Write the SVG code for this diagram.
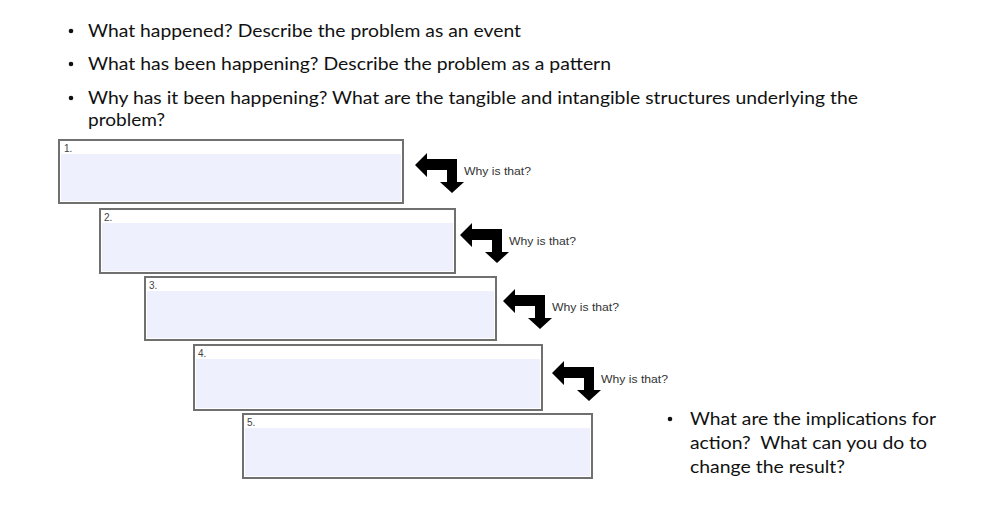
<svg xmlns="http://www.w3.org/2000/svg" width="1000" height="511" viewBox="0 0 1000 511">
<defs>
<style>
.bt{font-family:Lato,"Open Sans","Liberation Sans",sans-serif;font-size:18px;fill:#111}
.bul{fill:#111}
.box{fill:#fff;stroke:#707070;stroke-width:2}
.inner{fill:#eef1fd}
.num{font-family:"Liberation Sans",Arial,sans-serif;font-size:10px;fill:#444}
.why{font-family:"Liberation Sans",Arial,sans-serif;font-size:11.5px;fill:#333}
.arr{fill:#000}
</style>
<path id="arrowShape" d="M0,0 L12,-12 L12,-6 L42,-6 L42,17 L49,17 L37,28 L25,17 L32,17 L32,5 L12,5 L12,12 Z"/>
</defs>
<rect width="1000" height="511" fill="#fff"/>
<g id="top-bullets">
<circle class="bul" cx="71" cy="31" r="2.3"/>
<text class="bt" x="88" y="37" textLength="433" lengthAdjust="spacingAndGlyphs">What happened? Describe the problem as an event</text>
<circle class="bul" cx="71" cy="64" r="2.3"/>
<text class="bt" x="88" y="70" textLength="523" lengthAdjust="spacingAndGlyphs">What has been happening? Describe the problem as a pattern</text>
<circle class="bul" cx="71" cy="98" r="2.3"/>
<text class="bt" x="88" y="104" textLength="770" lengthAdjust="spacingAndGlyphs">Why has it been happening? What are the tangible and intangible structures underlying the</text>
<text class="bt" x="88" y="126" textLength="77" lengthAdjust="spacingAndGlyphs">problem?</text>
</g>
<g id="box1">
<rect class="box" x="59" y="140" width="344" height="63"/>
<rect class="inner" x="61" y="154" width="340" height="47"/>
<text class="num" x="64" y="152">1.</text>
</g>
<g id="box2">
<rect class="box" x="100" y="209" width="355" height="64"/>
<rect class="inner" x="102" y="223" width="351" height="48"/>
<text class="num" x="104" y="221">2.</text>
</g>
<g id="box3">
<rect class="box" x="145" y="277" width="351" height="63"/>
<rect class="inner" x="147" y="291" width="347" height="47"/>
<text class="num" x="149" y="289">3.</text>
</g>
<g id="box4">
<rect class="box" x="194" y="345" width="348" height="65"/>
<rect class="inner" x="196" y="359" width="344" height="49"/>
<text class="num" x="198" y="357">4.</text>
</g>
<g id="box5">
<rect class="box" x="243" y="414" width="349" height="64"/>
<rect class="inner" x="245" y="428" width="345" height="48"/>
<text class="num" x="247" y="426">5.</text>
</g>
<g id="connectors">
<use href="#arrowShape" class="arr" transform="translate(415,165)"/>
<use href="#arrowShape" class="arr" transform="translate(460,235)"/>
<use href="#arrowShape" class="arr" transform="translate(503,301)"/>
<use href="#arrowShape" class="arr" transform="translate(552,373)"/>
</g>
<g id="labels">
<text class="why" x="464" y="175" textLength="67" lengthAdjust="spacingAndGlyphs">Why is that?</text>
<text class="why" x="509" y="245" textLength="67" lengthAdjust="spacingAndGlyphs">Why is that?</text>
<text class="why" x="552" y="311" textLength="67" lengthAdjust="spacingAndGlyphs">Why is that?</text>
<text class="why" x="601" y="383" textLength="67" lengthAdjust="spacingAndGlyphs">Why is that?</text>
</g>
<g id="right-bullet">
<circle class="bul" cx="670" cy="419" r="2.3"/>
<text class="bt" x="690" y="425" textLength="246" lengthAdjust="spacingAndGlyphs">What are the implications for</text>
<text class="bt" x="690" y="449" textLength="237" lengthAdjust="spacingAndGlyphs">action?&#160; What can you do to</text>
<text class="bt" x="690" y="473" textLength="155" lengthAdjust="spacingAndGlyphs">change the result?</text>
</g>
</svg>
